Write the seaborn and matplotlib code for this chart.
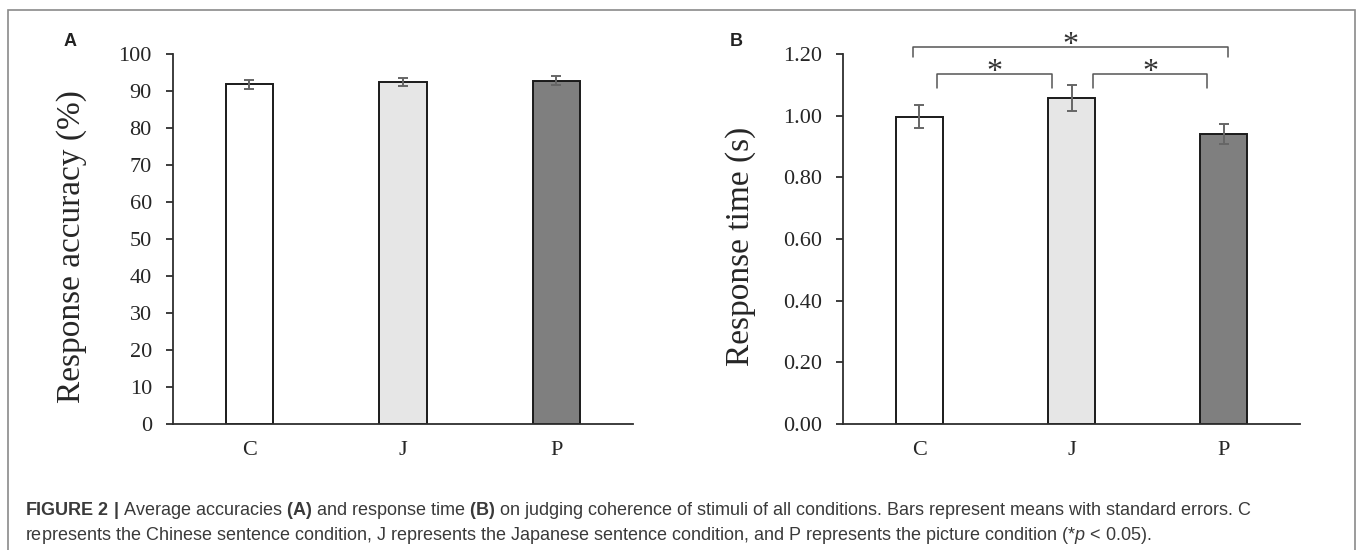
import numpy as np
import seaborn as sns
import matplotlib.pyplot as plt
from matplotlib.patches import Rectangle

# datos
conditions = ['C', 'J', 'P']
accuracy = [91.8, 92.5, 92.8]
accuracy_se = [1.2, 1.1, 1.2]
rt = [0.996, 1.058, 0.940]
rt_se = [0.037, 0.042, 0.033]
bar_colors = ['#ffffff', '#e6e6e6', '#7f7f7f']
sig_pairs = [(0, 2), (0, 1), (1, 2)]

sns.set_style('white')
plt.rcParams['font.family'] = ['Liberation Serif', 'DejaVu Serif']
plt.rcParams['mathtext.fontset'] = 'custom'
plt.rcParams['mathtext.rm'] = 'Liberation Sans'
plt.rcParams['mathtext.bf'] = 'Liberation Sans:bold'
plt.rcParams['mathtext.it'] = 'Liberation Sans:italic'

W, H = 1357, 550
fig = plt.figure(figsize=(W / 100, H / 100), dpi=100)
axA = fig.add_axes([172.7 / W, 126 / H, 460.3 / W, 370 / H])
axB = fig.add_axes([843 / W, 126 / H, 457 / W, 370 / H])

axis_col = '#2e2e2e'


def panel(ax, values, errors, ylim, ticks, fmt, ylabel):
    sns.barplot(x=conditions, y=values, hue=conditions, palette=bar_colors,
                width=0.31, edgecolor='#1a1a1a', linewidth=1.4, legend=False,
                errorbar=None, ax=ax)
    ax.errorbar(np.arange(len(conditions)), values, yerr=errors, fmt='none',
                ecolor='#666666', elinewidth=1.4, capsize=3.6, capthick=1.4)
    ax.set_xlim(-0.5, 2.5)
    ax.set_ylim(*ylim)
    ax.set_yticks(ticks)
    ax.set_yticklabels([fmt.format(t) for t in ticks])
    sns.despine(ax=ax)
    for s in ['left', 'bottom']:
        ax.spines[s].set_color(axis_col)
        ax.spines[s].set_linewidth(1.3)
    ax.tick_params(axis='y', direction='out', length=5, width=1.3,
                   color=axis_col, labelsize=16, pad=10, left=True)
    ax.tick_params(axis='x', length=0, labelsize=16, pad=12)
    ax.set_xlabel('')
    ax.set_ylabel(ylabel, fontsize=24)


panel(axA, accuracy, accuracy_se, (0, 100), np.arange(0, 101, 10), '{:.0f}',
      'Response accuracy (%)')
axA.yaxis.set_label_coords(-0.186, 0.48)

panel(axB, rt, rt_se, (0, 1.2), np.arange(0, 1.21, 0.2), '{:.2f}',
      'Response time (s)')
axB.yaxis.set_label_coords(-0.190, 0.48)

# llaves de significación
bracket_geom = {(0, 2): (-0.04, 0.03, 1.224, 1.191, 1.203),
                (0, 1): (0.115, -0.13, 1.135, 1.090, 1.115),
                (1, 2): (0.14, -0.11, 1.135, 1.090, 1.115)}
for a, b in sig_pairs:
    da, db, yb, yt, ys = bracket_geom[(a, b)]
    x0, x1 = a + da, b + db
    axB.plot([x0, x0, x1, x1], [yt, yb, yb, yt], color='#555555', lw=1.1,
             clip_on=False, solid_joinstyle='round')
    axB.text((x0 + x1) / 2, ys, '*', ha='center', va='baseline', fontsize=23,
             color='#333333', clip_on=False)

# letras de panel
fig.text(70 / W, 1 - 42 / H, 'A', ha='center', va='center', fontsize=13,
         fontweight='bold', family='Liberation Sans', color='#222222')
fig.text(736 / W, 1 - 42 / H, 'B', ha='center', va='center', fontsize=13,
         fontweight='bold', family='Liberation Sans', color='#222222')

# marco y pie de figura
fig.add_artist(Rectangle((8 / W, -0.05), (1355 - 8) / W, 1.05 - 10 / H,
                         transform=fig.transFigure, fill=False,
                         edgecolor='#8a8a8a', lw=1.2))
cap1 = (r'$\mathbf{FIGURE\ 2\ |}$ Average accuracies $\mathbf{(A)}$ and response time '
        r'$\mathbf{(B)}$ on judging coherence of stimuli of all conditions. '
        r'Bars represent means with standard errors. C')
cap2 = ('represents the Chinese sentence condition, J represents the Japanese '
        r'sentence condition, and P represents the picture condition (*$\mathit{p}$ < 0.05).')
fig.text(25 / W, 1 - 515 / H, cap1, ha='left', va='baseline', fontsize=13,
         family='Liberation Sans', color='#3a3a3a')
fig.text(25 / W, 1 - 540 / H, cap2, ha='left', va='baseline', fontsize=13,
         family='Liberation Sans', color='#3a3a3a')

plt.savefig('out.png', dpi=100)
